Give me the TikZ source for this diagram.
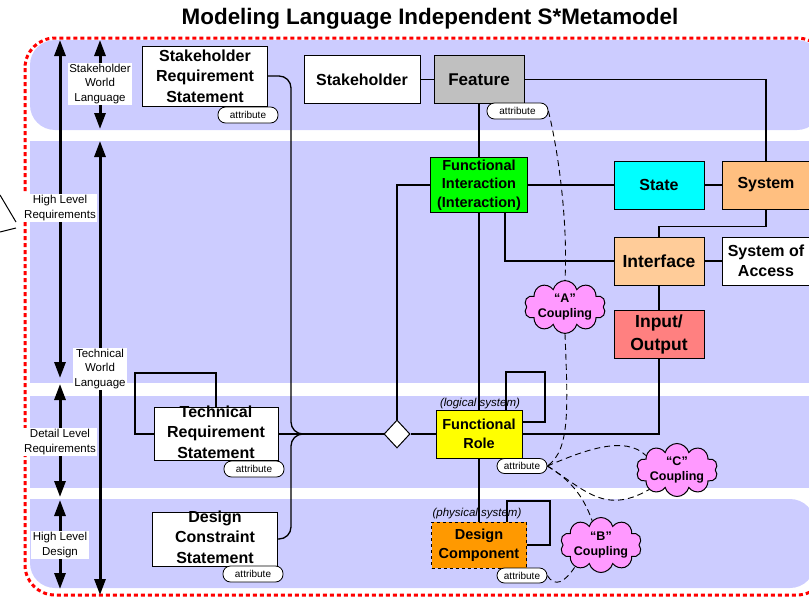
\documentclass[tikz,border=0pt]{standalone}
\usepackage{fontspec}
\setmainfont{Liberation Sans}
\usepackage{tikz}
\usetikzlibrary{shapes.geometric,shapes.symbols,arrows.meta}
\definecolor{bandblue}{HTML}{CCCCFF}
\definecolor{borderred}{HTML}{FF0000}
\definecolor{featgray}{HTML}{C0C0C0}
\definecolor{funcgreen}{HTML}{00FF00}
\definecolor{statecyan}{HTML}{00FFFF}
\definecolor{sysorange}{HTML}{FFBF80}
\definecolor{ifcpeach}{HTML}{FFCC99}
\definecolor{iored}{HTML}{FF8080}
\definecolor{roleyellow}{HTML}{FFFF00}
\definecolor{comporange}{HTML}{FF9900}
\definecolor{couplepink}{HTML}{FF99FF}

\begin{document}
\begin{tikzpicture}[x=1pt, y=-1pt,
  blk/.style={rectangle, draw=black, line width=1pt, fill=#1, align=center, inner sep=0pt,
              text=black, font=\bfseries\fontsize{16}{20.5}\selectfont},
  txtsm/.style={font=\bfseries\fontsize{14.5}{18.5}\selectfont},
  txtlg/.style={font=\bfseries\fontsize{17.5}{23}\selectfont},
  attr/.style={rectangle, rounded corners=7.5pt, draw=black, line width=0.8pt, fill=white,
               minimum width=#1, minimum height=16pt, inner sep=0pt, font=\fontsize{10}{12}\selectfont},
  lvl/.style={fill=white, align=center, inner sep=1.5pt, font=\fontsize{11.5}{14.5}\selectfont},
  lvlarrow/.style={line width=3pt, {Triangle[length=16pt,width=11pt]}-{Triangle[length=16pt,width=11pt]}},
  coupling/.style={cloud, cloud puffs=10, cloud ignores aspect, draw=black, line width=1pt,
                   fill=couplepink, align=center, inner sep=0pt,
                   font=\bfseries\fontsize{12.5}{14.5}\selectfont},
  wire/.style={line width=1.3pt},
  dep/.style={line width=0.9pt, dash pattern=on 6pt off 4pt},
  sysnote/.style={font=\itshape\fontsize{11.5}{14}\selectfont, inner sep=0pt},
]
  \useasboundingbox (0,0) rectangle (809,597);

  % lanes
  \fill[bandblue, rounded corners=25pt] (30,40) rectangle (822,130);
  \fill[bandblue] (30,141) rectangle (812,383);
  \fill[bandblue] (30,396) rectangle (812,488);
  \fill[bandblue, rounded corners=25pt] (30,499) rectangle (815,588);
  \fill[bandblue] (30,499) rectangle (80,540);
  \draw[borderred, line width=3pt, dash pattern=on 4pt off 3pt, rounded corners=30pt]
    (25,38) rectangle (827,595);

  \node[font=\bfseries\fontsize{22.4}{26}\selectfont] (title) at (430,18.5)
    {Modeling Language Independent S*Metamodel};

  % cut-off callout on the left
  \draw[line width=1pt] (0,195) -- (16,222);
  \draw[line width=1pt] (16,228) -- (0,232);

  % level scales
  \draw[lvlarrow] (60,40) -- (60,378);
  \draw[lvlarrow] (60,384) -- (60,497);
  \draw[lvlarrow] (60,500) -- (60,589);
  \draw[lvlarrow] (100,40) -- (100,129);
  \draw[lvlarrow] (100,141) -- (100,595);
  \node[lvl] (hlreq) at (60,208) {High Level\\Requirements};
  \node[lvl] (dlreq) at (60,442) {Detail Level\\Requirements};
  \node[lvl] (hldes) at (60,545) {High Level\\Design};
  \node[lvl] (swlang) at (100,84) {Stakeholder\\World\\Language};
  \node[lvl] (twlang) at (100,369) {Technical\\World\\Language};

  % metamodel classes
  \node[blk=white, minimum width=125pt, minimum height=60pt] (srs) at (205,76)
    {Stakeholder\\Requirement\\Statement};
  \node[attr=60pt] (srsattr) at (248,115) {attribute};
  \node[blk=white, minimum width=116pt, minimum height=48pt] (stkh) at (362,79.5) {Stakeholder};
  \node[blk=featgray, minimum width=90pt, minimum height=48pt] (feature) at (479,79.5)
    {\fontsize{17}{20}\selectfont Feature};
  \node[attr=61pt] (featattr) at (517.5,111) {attribute};
  \node[blk=funcgreen, txtsm, minimum width=97pt, minimum height=55pt] (fi) at (479,185)
    {Functional\\Interaction\\(Interaction)};
  \node[blk=statecyan, minimum width=90pt, minimum height=48pt] (state) at (659,185) {State};
  \node[blk=sysorange, minimum width=88pt, minimum height=48pt] (system) at (766,185) {System};
  \node[blk=ifcpeach, txtlg, minimum width=90pt, minimum height=48pt] (interface) at (659,261)
    {Interface};
  \node[blk=white, minimum width=88pt, minimum height=48pt] (soa) at (766,261)
    {System of\\Access};
  \node[blk=iored, txtlg, minimum width=90pt, minimum height=48pt] (io) at (659,334)
    {Input/\\Output};

  \node[blk=white, minimum width=124pt, minimum height=53pt] (trs) at (216,434)
    {\smash{\raisebox{-4pt}{\begin{tabular}{@{}c@{}}Technical\\Requirement\\Statement\end{tabular}}}};
  \node[attr=60pt] (trsattr) at (254,469) {attribute};
  \node[blk=white, minimum width=125pt, minimum height=54pt] (dcs) at (215,539)
    {\smash{\raisebox{-4pt}{\begin{tabular}{@{}c@{}}Design\\Constraint\\Statement\end{tabular}}}};
  \node[attr=60pt] (dcsattr) at (253,574) {attribute};

  \node[diamond, aspect=1, draw=black, line width=1pt, fill=white, inner sep=0pt,
        minimum width=26pt, minimum height=28pt] (dia) at (397,434) {};
  \coordinate (jn) at (291,434);

  \node[blk=roleyellow, txtsm, minimum width=86pt, minimum height=48pt] (fr) at (479,434)
    {Functional\\Role};
  \node[sysnote] (logsys) at (480,404) {(logical system)};
  \node[attr=50pt, minimum height=15pt] (frattr) at (522,466) {attribute};
  \node[blk=comporange, txtsm, dashed, minimum width=95pt, minimum height=46pt] (dc) at (479,545)
    {Design\\Component};
  \node[sysnote] (physsys) at (477,514) {(physical system)};
  \node[attr=50pt, minimum height=15pt] (dcattr) at (522,575.5) {attribute};

  \node[coupling, minimum width=74pt, minimum height=48pt] (couplA) at (565,307) {“A”\\Coupling};
  \node[coupling, minimum width=66pt, minimum height=53pt] (couplC) at (677,470) {“C”\\Coupling};
  \node[coupling, minimum width=65pt, minimum height=55pt] (couplB) at (601,545) {“B”\\Coupling};

  % associations
  \draw[wire] (stkh.east) -- (feature.west);
  \draw[wire] (feature.east) -| (system.north);
  \draw[wire] (feature.south) -- (fi.north);
  \draw[wire] (fi.west) -| (dia.north);
  \draw[wire] (fi.east) -- (state.west);
  \draw[wire] (state.east) -- (system.west);
  \draw[wire] ([xshift=26pt]fi.south) |- (interface.west);
  \draw[wire] (system.south) -- ++(0,17) -| (interface.north);
  \draw[wire] (interface.east) -- (soa.west);
  \draw[wire] (interface.south) -- (io.north);
  \draw[wire] (io.south) |- (fr.east);
  \draw[wire] (fi.south) -- (fr.north);
  \draw[wire] (fr.south) -- (dc.north);
  \draw[wire] (dia.east) -- (fr.west);
  \draw[wire] (trs.east) -- (dia.west);
  \draw[wire, rounded corners=12pt] (srs.east) -| (jn) -- (dia.west);
  \draw[wire, rounded corners=12pt] (dcs.east) -| (jn) -- (dia.west);

  % self associations
  \draw[wire] (trs.north) |- (135,373) |- (trs.west);
  \draw[wire] ([xshift=27pt]fr.north) |- (545,372) |- ([yshift=12pt]fr.east);
  \draw[wire] ([xshift=28pt]dc.north) |- (550,501) |- (dc.east);

  % couplings
  \draw[dep] (featattr.east) .. controls (558,150) and (568,220) .. (couplA.north);
  \draw[dep] (couplA.south) .. controls (568,410) and (570,450) .. (frattr.east);
  \draw[dep] (frattr.east) .. controls (585,450) and (625,435) .. (couplC.155);
  \draw[dep] (frattr.east) .. controls (585,490) and (605,515) .. (couplC.215);
  \draw[dep] (frattr.east) .. controls (570,480) and (583,495) .. (couplB.110);
  \draw[dep] (dcattr.east) .. controls (555,588) and (565,582) .. (couplB.220);
\end{tikzpicture}
\end{document}
